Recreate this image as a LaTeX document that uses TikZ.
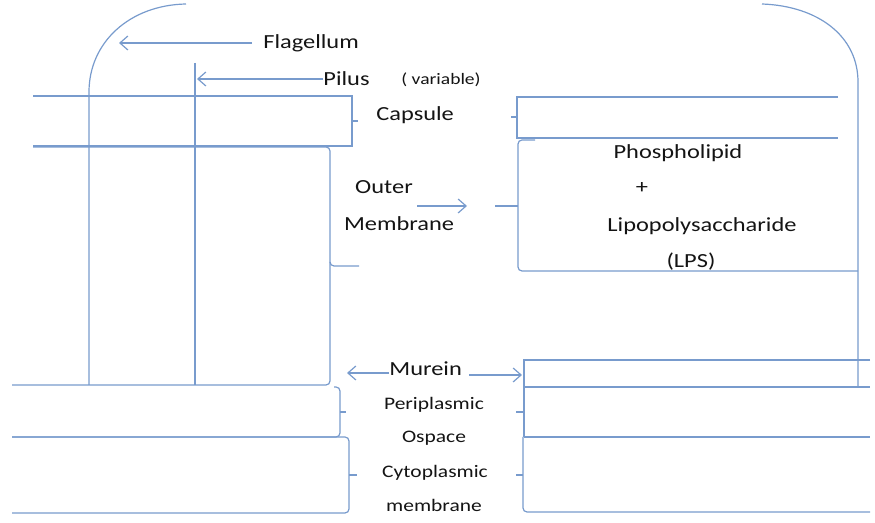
\documentclass[tikz,border=0pt]{standalone}
\usepackage{fontspec}
\setmainfont{Carlito}[FakeStretch=1.22]
\usetikzlibrary{arrows.meta}
\definecolor{cellblue}{RGB}{120,155,205}
\definecolor{labelgrey}{RGB}{20,20,20}

\begin{document}
\begin{tikzpicture}[x=0.5pt, y=-0.5pt,
		layer/.style={draw=cellblue, line width=0.6pt},
		bracket/.style={layer, rounded corners=2pt},
		pointer/.style={layer, -{Straight Barb[length=4pt,width=7pt]}},
		lbl/.style={text=labelgrey, font=\fontsize{10}{12}\selectfont, inner sep=0pt},
		smalllbl/.style={lbl, font=\fontsize{8.8}{10}\selectfont}]
		\useasboundingbox (0,0) rectangle (875,523);
		
		% flagellum and pilus
		\draw [layer] (89,385) -- (89,92) .. controls (89,42) and (130,5) .. (186,4);
		\draw [layer] (858,387) -- (858,82) .. controls (858,36) and (818,6) .. (762,4);
		\draw [layer] (195,63) -- (195,385);
		
		% left side layers
		\draw [layer] (33,96) -- (352,96) -- (352,146) -- (33,146);
		\draw [layer] (352,121) -- (358,121);
		\draw [bracket] (33,147) -| (330,266) -- (359,266);
		\draw [bracket] (330,262) |- (12,385);
		\draw [bracket] (334,387) -| (340,437) -- (12,437);
		\draw [layer] (340,412) -- (346,412);
		\draw [bracket] (12,437) -| (349,513) -- (12,513);
		\draw [layer] (349,475) -- (357,475);
		
		% right side layers
		\draw [layer] (838,97) -- (517,97) -- (517,138) -- (838,138);
		\draw [layer] (517,117) -- (511,117);
		\draw [bracket] (535,140) -| (518,206) |- (858,271);
		\draw [layer] (518,206) -- (495,206);
		\draw [layer] (870,360) -- (524,360) -- (524,387);
		\draw [layer, line width=0.9pt] (524,387) -- (870,387);
		\draw [layer] (524,387) -- (524,437);
		\draw [layer, line width=0.9pt] (524,437) -- (870,437);
		\draw [layer] (524,412) -- (516,412);
		\draw [bracket] (523,437) |- (870,512);
		\draw [layer] (523,475) -- (516,475);
		
		% labels
		\node [lbl, anchor=west] (flagellum) at (263,43) {Flagellum};
		\node [lbl, anchor=west] (pilus) at (323,79) {Pilus};
		\node [lbl, font=\fontsize{8}{10}\selectfont, anchor=west] (variable) at (401,80) {( variable)};
		\node [lbl, anchor=west] (capsule) at (376,115) {Capsule};
		\node [lbl] (outer) at (384,187) {Outer};
		\node [lbl] (membrane) at (399,224) {Membrane};
		\node [lbl] (phospho) at (678,153) {Phospholipid};
		\node [lbl] (plus) at (642,188) {+};
		\node [lbl] (lipo) at (702,226) {Lipopolysaccharide};
		\node [lbl] (lps) at (691,262) {(LPS)};
		\node [lbl, anchor=west] (murein) at (389,369) {Murein};
		\node [smalllbl] (peri) at (434,405) {Periplasmic};
		\node [smalllbl] (ospace) at (434,438) {Ospace};
		\node [smalllbl] (cyto) at (435,473) {Cytoplasmic};
		\node [smalllbl] (cytomem) at (434,505) {membrane};
		
		% arrows
		\coordinate (flagtip) at (119,43);
		\coordinate (pilustip) at (197,79);
		\coordinate (omstart) at (417,206);
		\coordinate (omtip) at (467,206);
		\coordinate (mureinleft) at (347,373);
		\coordinate (mureinright) at (522,375);
		\draw [pointer] ([xshift=-5.5pt]flagellum.west) -- (flagtip);
		\draw [pointer] (pilus.west) -- (pilustip);
		\draw [pointer] (omstart) -- (omtip);
		\draw [pointer] ([yshift=-2pt]murein.west) -- (mureinleft);
		\draw [pointer] ([xshift=3.5pt, yshift=-3pt]murein.east) -- (mureinright);
		
	\end{tikzpicture}
\end{document}
